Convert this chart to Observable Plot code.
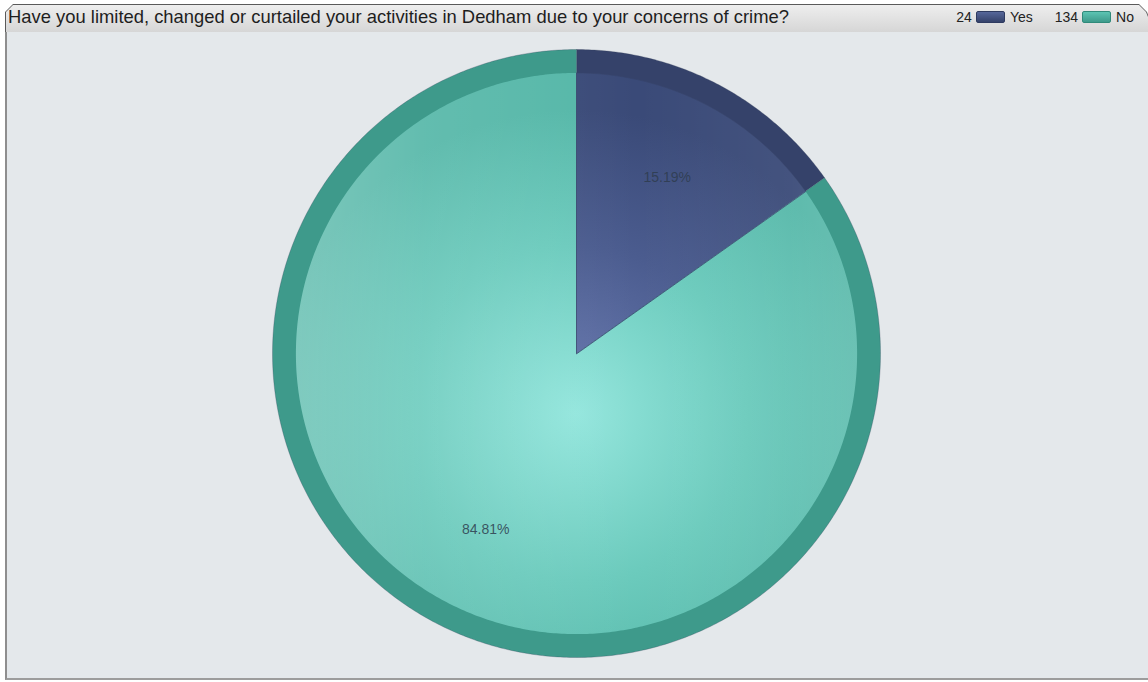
<!DOCTYPE html>
<html>
<head>
<meta charset="utf-8">
<script src="https://cdn.jsdelivr.net/npm/d3@7"></script>
<script src="https://cdn.jsdelivr.net/npm/@observablehq/plot@0.6"></script>
<style>
  html, body { margin: 0; padding: 0; background: #ffffff; }
  body { width: 1148px; height: 682px; position: relative; overflow: hidden; font-family: "Liberation Sans", Arial, sans-serif; }
  #hdrOuter { position: absolute; left: 5px; top: 4px; width: 1150px; height: 29px; background: #5a5a5a;
    clip-path: polygon(8px 0, calc(100% - 16px) 0, calc(100% - 8px) 8px, 100% 100%, 0 100%, 0 8px); }
  #hdrInner { position: absolute; left: 1px; top: 1px; right: 1px; bottom: 1px;
    background: linear-gradient(#eeeeee, #d6d6d6);
    clip-path: polygon(7px 0, calc(100% - 15px) 0, calc(100% - 8px) 7px, 100% 100%, 0 100%, 0 7px); }
  #title { position: absolute; left: 8px; top: 7px; font-size: 18.4px; line-height: 20px; color: #1e1e1e; white-space: nowrap; }
  #legend { position: absolute; right: 14px; top: 9px; font-size: 14px; line-height: 16px; color: #222; display: flex; align-items: center; white-space: nowrap; }
  .lg-item { display: flex; align-items: center; margin-left: 22px; }
  .sw { display: inline-block; width: 27px; height: 10px; border-radius: 2px; margin: 0 5px 0 4px; }
  #plotBox { position: absolute; left: 5px; top: 32px; width: 1141px; height: 646px;
    border-left: 2px solid #8e8e8e; border-bottom: 2px solid #9c9c9c; background: #e4e8eb; }
  #plotBox svg { display: block; }
</style>
</head>
<body>
<div id="hdrOuter"><div id="hdrInner"></div></div>
<div id="title"></div>
<div id="legend"></div>
<div id="plotBox"></div>
<script>
// ---- data ----
const title = "Have you limited, changed or curtailed your activities in Dedham due to your concerns of crime?";
const categories = ["Yes", "No"];
const counts = [24, 134];
const outerColors = ["#35426a", "#3e9a8b"];
const swatchColors = ["#56679a", "#5cc4b3"];
const swatchBorders = ["#2e3a60", "#2f8a7a"];

// ---- layout ----
const W = 1141, H = 646;
const CX = 569, CY = 321, R = 304;
const innerFrac = 0.923;

// header text + legend
document.getElementById("title").textContent = title;
const legend = document.getElementById("legend");
categories.forEach((c, i) => {
  const item = document.createElement("div");
  item.className = "lg-item";
  item.innerHTML = `<span>${counts[i]}</span><span class="sw" style="background:linear-gradient(${swatchColors[i]}, ${outerColors[i]});border:1px solid ${swatchBorders[i]}"></span><span>${c}</span>`;
  legend.appendChild(item);
});

// ---- pie geometry from data ----
const total = d3.sum(counts);
const arcs = d3.pie().sort(null).value(d => d)(counts); // angles clockwise from 12 o'clock
function slicePoints(a0, a1, r, key) {
  const pts = [{x: 0, y: 0, key}];
  const n = Math.max(2, Math.ceil((a1 - a0) / 0.01));
  for (let k = 0; k <= n; k++) {
    const a = a0 + (a1 - a0) * k / n;
    pts.push({x: r * Math.sin(a), y: r * Math.cos(a), key});
  }
  return pts;
}
const outerPts = arcs.flatMap((a, i) => slicePoints(a.startAngle, a.endAngle, 1, categories[i]));
const innerYes = slicePoints(arcs[0].startAngle, arcs[0].endAngle, innerFrac, "Yes");
const innerNo = slicePoints(arcs[1].startAngle, arcs[1].endAngle, innerFrac, "No");
const glossPts = slicePoints(0, 2 * Math.PI, innerFrac, "gloss");
const labels = arcs.map((a, i) => {
  const m = (a.startAngle + a.endAngle) / 2;
  return {x: 0.65 * Math.sin(m), y: 0.65 * Math.cos(m), text: (counts[i] / total * 100).toFixed(2) + "%"};
});

const xDomain = [-CX / R, (W - CX) / R];
const yDomain = [-(H - CY) / R, CY / R];

// gradient defs as a mark
function defsMark(index, scales) {
  const cx = scales.x(0), cy = scales.y(0);
  const defs = d3.create("svg:defs");
  const g1 = defs.append("radialGradient").attr("id", "gYes").attr("gradientUnits", "userSpaceOnUse")
    .attr("cx", cx).attr("cy", cy + 60).attr("r", R);
  g1.append("stop").attr("offset", "0%").attr("stop-color", "#6a7bb2");
  g1.append("stop").attr("offset", "55%").attr("stop-color", "#4b5c8f");
  g1.append("stop").attr("offset", "100%").attr("stop-color", "#3a4a78");
  const g2 = defs.append("radialGradient").attr("id", "gNo").attr("gradientUnits", "userSpaceOnUse")
    .attr("cx", cx).attr("cy", cy + 60).attr("r", R);
  g2.append("stop").attr("offset", "0%").attr("stop-color", "#94e6dd");
  g2.append("stop").attr("offset", "55%").attr("stop-color", "#6ccbbd");
  g2.append("stop").attr("offset", "100%").attr("stop-color", "#55b7a8");
  const g3 = defs.append("linearGradient").attr("id", "gGloss").attr("gradientUnits", "userSpaceOnUse")
    .attr("x1", cx - R).attr("y1", cy).attr("x2", cx + R).attr("y2", cy);
  g3.append("stop").attr("offset", "0%").attr("stop-color", "#ffffff").attr("stop-opacity", 0.26);
  g3.append("stop").attr("offset", "25%").attr("stop-color", "#ffffff").attr("stop-opacity", 0.08);
  g3.append("stop").attr("offset", "60%").attr("stop-color", "#ffffff").attr("stop-opacity", 0);
  g3.append("stop").attr("offset", "85%").attr("stop-color", "#ffffff").attr("stop-opacity", 0.05);
  g3.append("stop").attr("offset", "100%").attr("stop-color", "#ffffff").attr("stop-opacity", 0.14);
  return defs.node();
}

const chart = Plot.plot({
  width: W, height: H,
  margin: 0,
  style: {background: "#e4e8eb", overflow: "visible"},
  x: {domain: xDomain, axis: null},
  y: {domain: yDomain, axis: null},
  color: {domain: categories, range: outerColors},
  marks: [
    defsMark,
    Plot.line(outerPts, {x: "x", y: "y", z: "key", fill: "key", stroke: "#2f3b55", strokeOpacity: 0.35, strokeWidth: 0.8, curve: "linear-closed"}),
    Plot.line(innerNo, {x: "x", y: "y", fill: "url(#gNo)", stroke: "none", curve: "linear-closed"}),
    Plot.line(innerYes, {x: "x", y: "y", fill: "url(#gYes)", stroke: "#36446c", strokeWidth: 0.8, curve: "linear-closed"}),
    Plot.line(glossPts, {x: "x", y: "y", fill: "url(#gGloss)", stroke: "none", curve: "linear-closed"}),
    Plot.text(labels, {x: "x", y: "y", text: "text", fill: "#2e3c4e", fillOpacity: 0.85, fontSize: 14, fontFamily: "Liberation Sans, Arial, sans-serif"})
  ]
});
document.getElementById("plotBox").appendChild(chart);
</script>
</body>
</html>
